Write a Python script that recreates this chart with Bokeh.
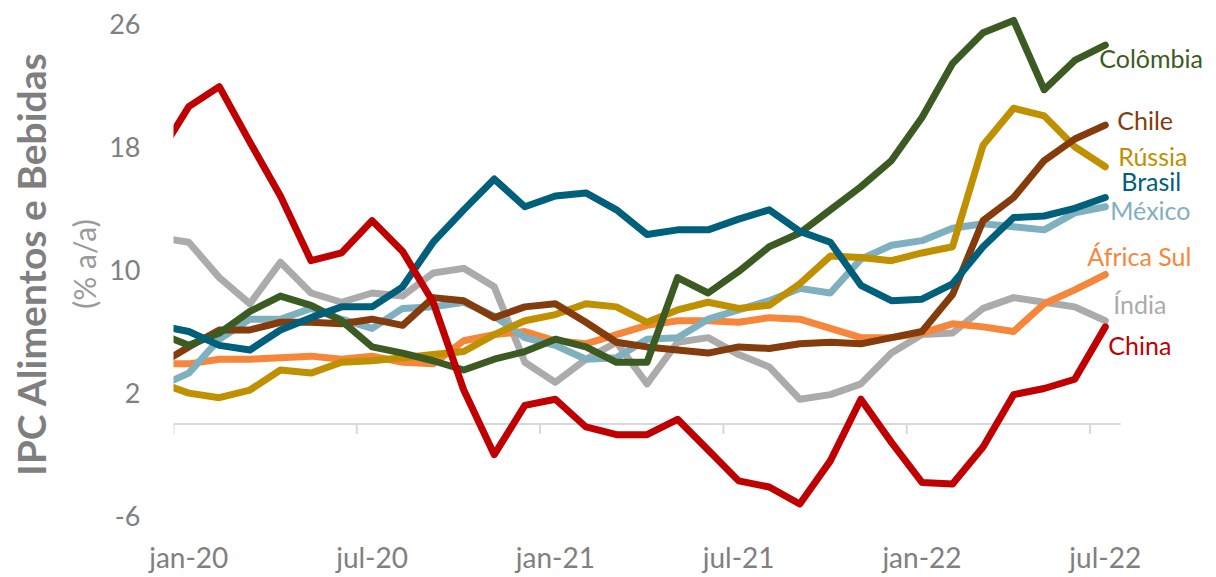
from bokeh.plotting import figure
from bokeh.models import Range1d, FixedTicker, Label, Title
from bokeh.embed import file_html
from bokeh.resources import INLINE

# ---------------- data ----------------
pt_months = ["jan", "fev", "mar", "abr", "mai", "jun", "jul", "ago", "set", "out", "nov", "dez"]
months = ["dez-19"] + [f"{m}-{y}" for y in ("20", "21") for m in pt_months] + [f"{m}-22" for m in pt_months[:7]]

tick_labels = ["jan-20", "jul-20", "jan-21", "jul-21", "jan-22", "jul-22"]

colombia = [5.9, 5.1, 5.9, 7.3, 8.3, 7.7, 6.7, 5.0, 4.6, 4.1, 3.5, 4.2, 4.7, 5.5, 5.0, 4.0, 4.0,
            9.5, 8.5, 9.9, 11.5, 12.4, 13.9, 15.4, 17.1, 19.9, 23.4, 25.4, 26.2, 21.7, 23.6, 24.6]
chile = [3.8, 5.0, 6.1, 6.1, 6.6, 6.6, 6.5, 6.8, 6.4, 8.2, 8.0, 6.9, 7.6, 7.8, 6.6, 5.3, 5.0,
         4.8, 4.6, 5.0, 4.9, 5.2, 5.3, 5.2, 5.6, 6.0, 8.4, 13.2, 14.7, 17.1, 18.5, 19.4]
russia = [2.7, 2.0, 1.7, 2.2, 3.5, 3.3, 4.0, 4.1, 4.3, 4.5, 4.7, 5.8, 6.7, 7.1, 7.8, 7.6, 6.6,
          7.4, 7.9, 7.5, 7.7, 9.1, 10.9, 10.8, 10.6, 11.1, 11.5, 18.1, 20.5, 20.0, 18.0, 16.7]
brasil = [6.4, 6.0, 5.1, 4.8, 6.1, 6.9, 7.6, 7.6, 8.9, 11.8, 13.9, 15.9, 14.1, 14.8, 15.0, 13.9, 12.3,
          12.6, 12.6, 13.3, 13.9, 12.5, 11.8, 9.0, 8.0, 8.1, 9.1, 11.5, 13.4, 13.5, 14.0, 14.7]
mexico = [2.4, 3.3, 5.5, 6.8, 6.8, 7.5, 6.8, 6.2, 7.5, 7.6, 7.9, 7.0, 5.6, 5.1, 4.2, 4.3, 5.5,
          5.6, 6.8, 7.4, 8.0, 8.8, 8.5, 10.7, 11.6, 11.9, 12.7, 13.0, 12.8, 12.6, 13.7, 14.1]
africa_sul = [3.9, 3.9, 4.2, 4.2, 4.3, 4.4, 4.2, 4.4, 4.0, 3.9, 5.4, 5.8, 6.0, 5.4, 5.2, 5.8, 6.4,
              6.7, 6.7, 6.6, 6.9, 6.8, 6.2, 5.6, 5.6, 5.9, 6.5, 6.3, 6.0, 7.8, 8.7, 9.7]
india = [12.1, 11.8, 9.5, 7.8, 10.5, 8.5, 7.9, 8.5, 8.3, 9.8, 10.1, 8.9, 4.0, 2.7, 4.2, 5.3, 2.6,
         5.3, 5.6, 4.5, 3.7, 1.6, 1.9, 2.6, 4.6, 5.8, 5.9, 7.5, 8.2, 7.9, 7.6, 6.7]
china = [17.4, 20.6, 21.9, 18.3, 14.8, 10.6, 11.1, 13.2, 11.2, 7.9, 2.2, -2.0, 1.2, 1.6, -0.2, -0.7, -0.7,
         0.3, -1.7, -3.7, -4.1, -5.2, -2.4, 1.6, -1.2, -3.8, -3.9, -1.5, 1.9, 2.3, 2.9, 6.3]

y_ticks = [-6, 2, 10, 18, 26]

# ---------------- styles ----------------
series = [
    # name, values, color, label dx (px), label dy (px, up)
    ("Índia", india, "#ABABAB", 8, 17),
    ("África Sul", africa_sul, "#F6873A", -18, 19),
    ("México", mexico, "#7FB0C0", 5, -3),
    ("Rússia", russia, "#BF9000", 13, 11),
    ("Chile", chile, "#843C0C", 12, 5),
    ("Colômbia", colombia, "#3B5B23", -6, -13),
    ("Brasil", brasil, "#005F7A", 16, 17),
    ("China", china, "#C00000", 3, -18),
]

FONT = "Lato"
W, H = 1216, 577
B_LEFT, B_TOP, B_BOTTOM = 173, 9, 59
PX_PER_UNIT = 15.4          # vertical pixels per percentage point
PX_PER_MONTH = 30.55        # horizontal pixels per month
TOP_TICK_PX = 23            # pixel row of the top tick
FRAME_W = W - B_LEFT
FRAME_H = H - B_TOP - B_BOTTOM
Y_TOP = max(y_ticks) + (TOP_TICK_PX - B_TOP) / PX_PER_UNIT
Y_BOTTOM = Y_TOP - FRAME_H / PX_PER_UNIT
X_END = FRAME_W / PX_PER_MONTH

# x: month start of jan-20 = 0; points drawn at mid-month
xs = [i - 0.5 for i in range(len(months))]
axis_end = len(months) - 1  # jan-20 .. jul-22 -> 31 month-widths

p = figure(width=W, height=H,
           x_range=Range1d(0, X_END), y_range=Range1d(Y_BOTTOM, Y_TOP),
           output_backend="svg", toolbar_location=None,
           min_border_left=B_LEFT, min_border_right=0, min_border_top=B_TOP, min_border_bottom=B_BOTTOM)
p.outline_line_color = None
p.background_fill_color = "white"
p.border_fill_color = "white"
p.xgrid.grid_line_color = None
p.ygrid.grid_line_color = None

# y axis
p.yaxis.ticker = FixedTicker(ticks=y_ticks)
p.yaxis.major_label_overrides = {t: str(t) for t in y_ticks}
p.yaxis.axis_line_color = None
p.yaxis.major_tick_line_color = None
p.yaxis.minor_tick_line_color = None
p.yaxis.major_label_standoff = 27
p.yaxis.major_label_text_font = FONT
p.yaxis.major_label_text_font_size = "27px"
p.yaxis.major_label_text_color = "#808080"

# x axis: labels at mid-month of label month
label_pos = [months.index(t) - 0.5 for t in tick_labels]
tick_pos = [months.index(t) - 1 for t in tick_labels]
p.xaxis.ticker = FixedTicker(ticks=label_pos)
p.xaxis.major_label_overrides = {pos: t for pos, t in zip(label_pos, tick_labels)}
p.xaxis.axis_line_color = None
p.xaxis.major_tick_line_color = None
p.xaxis.minor_tick_line_color = None
p.xaxis.major_label_standoff = 15
p.xaxis.major_label_text_font = FONT
p.xaxis.major_label_text_font_size = "28px"
p.xaxis.major_label_text_color = "#808080"

# zero axis line with tick marks at month starts
p.segment(x0=[0], y0=[0], x1=[axis_end], y1=[0], line_color="#D9D9D9", line_width=2)
tick_len = 10 / PX_PER_UNIT
p.segment(x0=tick_pos, y0=[0] * len(tick_pos), x1=tick_pos, y1=[-tick_len] * len(tick_pos),
          line_color="#D9D9D9", line_width=2)

# left titles
p.add_layout(Title(text="(% a/a)", text_font=FONT, text_font_size="30px", text_font_style="normal",
                   text_color="#9A9A9A", align="center", offset=5), "left")
p.add_layout(Title(text="IPC Alimentos e Bebidas", text_font=FONT, text_font_size="39px",
                   text_font_style="bold", text_color="#7F7F7F", align="center", offset=5), "left")

for name, vals, color, dx, dy in series:
    p.line(xs, vals, line_color=color, line_width=7, line_join="round", line_cap="round")
    p.add_layout(Label(x=xs[-1], y=vals[-1], x_offset=dx, y_offset=dy, text=name,
                       text_font=FONT, text_font_size="25px", text_color=color,
                       text_align="left", text_baseline="middle"))

open("out.html", "w").write(file_html(p, INLINE))
